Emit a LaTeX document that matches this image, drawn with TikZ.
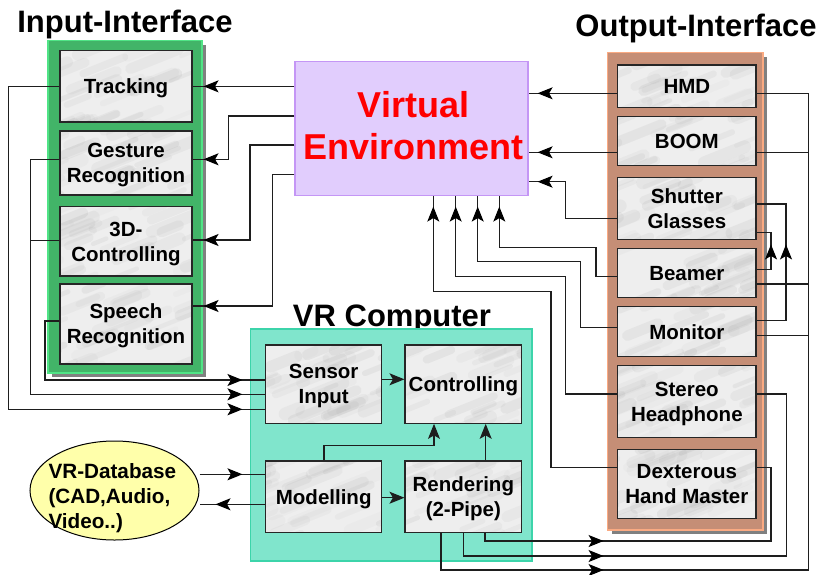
\documentclass[tikz,border=0pt]{standalone}
\usepackage{fontspec}
\setmainfont{Liberation Sans}
\usetikzlibrary{arrows.meta,decorations.markings,shapes.geometric}

\definecolor{inpanel}{RGB}{66,180,104}
\definecolor{inedge}{RGB}{80,228,134}
\definecolor{outpanel}{RGB}{197,142,118}
\definecolor{outedge}{RGB}{250,170,130}
\definecolor{vrpanel}{RGB}{128,229,204}
\definecolor{vredge}{RGB}{60,212,170}
\definecolor{vefill}{RGB}{225,205,253}
\definecolor{veedge}{RGB}{196,150,245}
\definecolor{dbfill}{RGB}{255,255,170}
\definecolor{marbbase}{RGB}{238,238,238}
\definecolor{marbvein}{RGB}{95,95,95}
\definecolor{wirec}{RGB}{30,30,30}
\definecolor{panelshadow}{RGB}{128,128,128}

\tikzset{
  marble/.style={draw=black!85, line width=1.1pt, fill=marbbase, inner sep=0pt,
    font=\fontsize{20.5}{25}\selectfont\bfseries, align=center, text depth=0pt,
    path picture={
      \foreach \k in {1,...,40}{
        \pgfmathsetmacro\ax{(rnd-0.65)*170}
        \pgfmathsetmacro\ay{(rnd-0.65)*100}
        \pgfmathsetmacro\al{12+40*rnd}
        \pgfmathsetmacro\ab{4+9*rnd}
        \pgfmathsetmacro\ao{0.025+0.05*rnd}
        \draw[marbvein, opacity=\ao, line width=\ab pt, line cap=round]
          ([shift={(\ax pt,\ay pt)}]path picture bounding box.center) -- ++(\al pt, 0.4*\al pt);
      }
    }},
  title/.style={font=\fontsize{31}{36}\selectfont\bfseries, anchor=base, inner sep=0pt},
  vetext/.style={font=\fontsize{36}{42}\selectfont\bfseries, align=center, inner sep=0pt},
  dbtext/.style={font=\fontsize{20.7}{25}\selectfont\bfseries, align=left, anchor=north west, inner sep=0pt},
  wire/.style={draw=wirec, line width=1.15pt},
  headtip/.tip={Stealth[length=15pt,width=12pt,inset=3.5pt]},
  arrowat/.style={postaction={decorate}, decoration={markings,
    mark=at position #1 with {\arrow[black]{headtip}}}},
  endtip/.style={-headtip}
}

\begin{document}
\begin{tikzpicture}[x=1pt, y=-1pt]
\pgfmathsetseed{11}
\useasboundingbox (0,0) rectangle (824,574);

% ---------- titles ----------
\node[title] (tin) at (125,32) {Input-Interface};
\node[title] (tout) at (696,36.7) {Output-Interface};
\node[title] (tvr) at (392,326) {VR Computer};

% ---------- panels ----------
\fill[panelshadow] (52,44.7) rectangle (206,377);
\filldraw[fill=inpanel, draw=inedge, line width=1.5pt] (48,40.7) rectangle (202,373);

\fill[panelshadow] (611.7,56.7) rectangle (767,534);
\filldraw[fill=outpanel, draw=outedge, line width=1.5pt] (607.7,52.7) rectangle (763,530);

\filldraw[fill=vrpanel, draw=vredge, line width=1.5pt] (250.7,329) rectangle (532,561);

% ---------- input devices ----------
\node[marble, minimum width=132pt, minimum height=71.3pt] (trk) at (126,86.35) {Tracking};
\node[marble, minimum width=132pt, minimum height=64pt] (ges) at (126,163) {Gesture\\Recognition};
\node[marble, minimum width=132pt, minimum height=69.3pt] (tdc) at (126,241.35) {3D-\\Controlling};
\node[marble, minimum width=132pt, minimum height=80pt] (spr) at (126,324) {Speech\\Recognition};

% ---------- output devices ----------
\node[marble, minimum width=138.3pt, minimum height=42.7pt] (hmd) at (686.85,86.35) {HMD};
\node[marble, minimum width=138.3pt, minimum height=49pt] (boom) at (686.85,141.2) {BOOM};
\node[marble, minimum width=138.3pt, minimum height=61.6pt] (shg) at (686.85,208.5) {Shutter\\Glasses};
\node[marble, minimum width=138.3pt, minimum height=49.4pt] (bmr) at (686.85,273) {Beamer};
\node[marble, minimum width=138.3pt, minimum height=50pt] (mon) at (686.85,331.7) {Monitor};
\node[marble, minimum width=138.3pt, minimum height=71.6pt] (shp) at (686.85,401.5) {Stereo\\Headphone};
\node[marble, minimum width=138.3pt, minimum height=69pt] (dhm) at (686.85,483.8) {Dexterous\\Hand Master};

% ---------- VR computer ----------
\node[marble, minimum width=116pt, minimum height=78.3pt] (sen) at (323.7,384.15) {Sensor\\Input};
\node[marble, minimum width=116.7pt, minimum height=78.3pt] (ctl) at (463.35,384.15) {Controlling};
\node[marble, minimum width=116pt, minimum height=71.7pt] (mod) at (323.7,496.85) {Modelling};
\node[marble, minimum width=116.7pt, minimum height=71.7pt] (ren) at (463.35,496.85) {Rendering\\(2-Pipe)};

% ---------- virtual environment ----------
\node[draw=veedge, fill=vefill, line width=1.2pt, minimum width=233pt, minimum height=134pt, inner sep=0pt] (ve) at (411.5,128.7) {};
\node[vetext, text=red] (velabel) at (413.5,126) {Virtual\\Environment};

% ---------- database ----------
\node[ellipse, draw=black, fill=dbfill, line width=1pt, minimum width=169pt, minimum height=99pt, inner sep=0pt] (db) at (114.5,490.5) {};
\node[dbtext] (dblabel) at (48.3,462.9) {VR-Database\\(CAD,Audio,\\Video..)};

% ---------- virtual environment -> input devices ----------
\draw[wire, arrowat=-11pt] (ve.west |- trk.east) -- (trk.east);
\draw[wire, arrowat=-11pt] (ve.west |- 0,116) -| (228.3,159.3) -- (ges.east |- 0,159.3);
\draw[wire, arrowat=-11pt] (ve.west |- 0,145) -| (250,240) -- (tdc.east |- 0,240);
\draw[wire, arrowat=-11pt] (ve.west |- 0,174.3) -| (272.3,306) -- (spr.east |- 0,306);

% ---------- input devices -> sensor input ----------
\draw[wire, arrowat=-22.7pt] (trk.west) -| (8.3,409.3) -- (sen.west |- 0,409.3);
\draw[wire, arrowat=-22.7pt] (ges.west |- 0,159.3) -| (30.7,394.3) -- (sen.west |- 0,394.3);
\draw[wire] (tdc.west |- 0,240.7) -- (30.7,240.7);
\draw[wire, arrowat=-22.7pt] (spr.west |- 0,321) -| (45,380) -- (sen.west |- 0,380);

% ---------- inside the VR computer ----------
\draw[wire, endtip] (sen.east |- 0,379.3) -- (ctl.west |- 0,379.3);
\draw[wire, endtip] (mod.north -| 324,0) |- (434,445.7) -- (ctl.south -| 434,0);
\draw[wire, endtip] (ren.north -| 485.7,0) -- (ctl.south -| 485.7,0);
\draw[wire, endtip] (mod.east |- 0,497.7) -- (ren.west |- 0,497.7);

% ---------- database <-> modelling ----------
\draw[wire, arrowat=-22.7pt] (db.east |- 0,474.3) -- (mod.west |- 0,474.3);
\draw[wire, arrowat=-16pt] (mod.west |- 0,504.3) -- (db.east |- 0,504.3);

% ---------- rendering -> output devices ----------
\draw[wire, arrowat=126.3pt] (ren.south -| 485,0) |- (771,541) |- (dhm.east |- 0,467.7);
\draw[wire, arrowat=163pt] (ren.south -| 463.3,0) |- (786.7,556) |- (shp.east |- 0,394);
\draw[wire, arrowat=199.3pt] (ren.south -| 441,0) |- (808.3,570) |- (hmd.east |- 0,93.3);
\draw[wire] (boom.east |- 0,152.3) -- (808.3,152.3);
\draw[wire] (bmr.east |- 0,284) -- (808.3,284);
\draw[wire] (mon.east |- 0,335.7) -- (808.3,335.7);

% ---------- stereo loops to the shutter glasses ----------
\draw[wire, arrowat=105.7pt] (mon.east |- 0,320.7) -| (786,204) -- (shg.east |- 0,204);
\draw[wire, arrowat=39.3pt] (bmr.east |- 0,269.3) -| (771,232.7) -- (shg.east |- 0,232.7);

% ---------- output devices -> virtual environment ----------
\draw[wire, arrowat=-9pt] (hmd.west |- 0,93.3) -- (ve.east |- 0,93.3);
\draw[wire, arrowat=-9pt] (boom.west |- 0,152.3) -- (ve.east |- 0,152.3);
\draw[wire, arrowat=-9pt] (shg.west |- 0,218.3) -| (565.7,181.7) -- (ve.east |- 0,181.7);
\draw[wire, arrowat=-10.3pt] (bmr.west |- 0,276.7) -| (596,247.7) -| (ve.south -| 499.3,0);
\draw[wire, arrowat=-10.3pt] (mon.west |- 0,327.7) -| (580.7,261.7) -| (ve.south -| 477.7,0);
\draw[wire, arrowat=-10.3pt] (shp.west |- 0,394) -| (565.7,276.7) -| (ve.south -| 455.7,0);
\draw[wire, arrowat=-10.3pt] (dhm.west |- 0,467.7) -| (551,291.7) -| (ve.south -| 433.3,0);
\end{tikzpicture}
\end{document}
